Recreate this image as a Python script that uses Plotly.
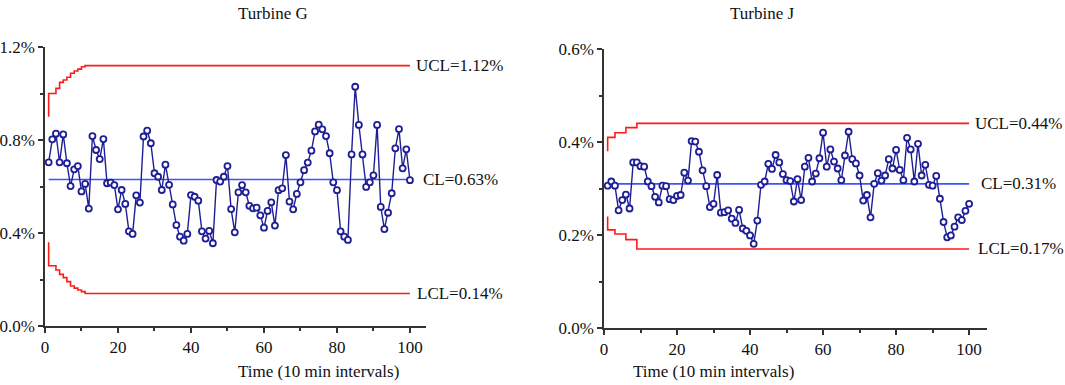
import plotly.graph_objects as go

# ---------------- data ----------------
time_idx = list(range(1, 101))

turbine_g = [0.704, 0.803, 0.827, 0.704, 0.824, 0.700, 0.602, 0.674, 0.688, 0.579,
             0.611, 0.505, 0.817, 0.757, 0.718, 0.804, 0.614, 0.617, 0.606, 0.502,
             0.585, 0.525, 0.407, 0.396, 0.562, 0.531, 0.815, 0.840, 0.786, 0.657,
             0.642, 0.585, 0.694, 0.607, 0.523, 0.434, 0.384, 0.367, 0.396, 0.563,
             0.556, 0.539, 0.407, 0.376, 0.409, 0.356, 0.628, 0.621, 0.642, 0.688,
             0.503, 0.403, 0.575, 0.606, 0.575, 0.517, 0.506, 0.509, 0.476, 0.423,
             0.495, 0.532, 0.432, 0.584, 0.592, 0.735, 0.535, 0.502, 0.568, 0.618,
             0.670, 0.703, 0.754, 0.837, 0.866, 0.846, 0.817, 0.743, 0.618, 0.584,
             0.407, 0.384, 0.370, 0.738, 1.029, 0.865, 0.738, 0.598, 0.618, 0.648,
             0.865, 0.512, 0.417, 0.487, 0.571, 0.764, 0.847, 0.678, 0.760, 0.627]

turbine_j = [0.306, 0.315, 0.306, 0.253, 0.275, 0.287, 0.257, 0.356, 0.356, 0.348,
             0.347, 0.315, 0.305, 0.282, 0.270, 0.306, 0.305, 0.277, 0.275, 0.284,
             0.286, 0.334, 0.317, 0.402, 0.401, 0.379, 0.339, 0.305, 0.260, 0.267,
             0.329, 0.248, 0.249, 0.253, 0.235, 0.226, 0.254, 0.214, 0.209, 0.199,
             0.181, 0.231, 0.308, 0.315, 0.353, 0.342, 0.372, 0.356, 0.331, 0.318,
             0.316, 0.272, 0.320, 0.275, 0.347, 0.366, 0.315, 0.332, 0.365, 0.420,
             0.347, 0.384, 0.358, 0.343, 0.318, 0.371, 0.422, 0.363, 0.354, 0.328,
             0.274, 0.286, 0.238, 0.310, 0.333, 0.317, 0.328, 0.363, 0.343, 0.383,
             0.340, 0.318, 0.409, 0.384, 0.315, 0.396, 0.328, 0.351, 0.308, 0.306,
             0.327, 0.278, 0.228, 0.195, 0.199, 0.218, 0.238, 0.232, 0.252, 0.267]

# control limits (step points)
g_limit_x = [1, 2, 3, 4, 5, 6, 7, 8, 9, 10, 11, 100]
g_ucl = [0.90, 1.00, 1.00, 1.022, 1.048, 1.058, 1.07, 1.087, 1.097, 1.105, 1.115, 1.12]
g_lcl = [0.36, 0.259, 0.259, 0.241, 0.222, 0.208, 0.191, 0.172, 0.163, 0.155, 0.148, 0.14]
g_cl_x = [1, 100]
g_cl = [0.63, 0.63]

j_limit_x = [1, 2, 3, 4, 5, 6, 7, 8, 9, 100]
j_ucl = [0.38, 0.41, 0.41, 0.42, 0.42, 0.42, 0.431, 0.431, 0.431, 0.44]
j_lcl = [0.24, 0.211, 0.211, 0.202, 0.202, 0.202, 0.19, 0.19, 0.19, 0.17]
j_cl_x = [1, 100]
j_cl = [0.31, 0.31]

titles = ["Turbine G", "Turbine J"]
x_title = "Time (10 min intervals)"
g_labels = ["UCL=1.12%", "CL=0.63%", "LCL=0.14%"]
j_labels = ["UCL=0.44%", "CL=0.31%", "LCL=0.17%"]
x_ticks = [0, 20, 40, 60, 80, 100]
g_y_ticks = [0.0, 0.4, 0.8, 1.2]
j_y_ticks = [0.0, 0.2, 0.4, 0.6]

# ---------------- style ----------------
W, H = 1065, 385
FONT = "Liberation Serif, Times New Roman, serif"
NAVY = "#1e1e96"
RED = "#ff1a1a"
BLUE = "#3a55ff"
AXC = "#333333"
FS = 17

def px_x(p):
    return p / W

def px_y(p):
    return (H - p) / H

fig = go.Figure()

def add_panel(xa, ya, values, limx, ucl, lcl, clx, cl):
    fig.add_trace(go.Scatter(x=clx, y=cl, mode="lines", xaxis=xa, yaxis=ya,
                             line=dict(color=BLUE, width=1.6), hoverinfo="skip"))
    fig.add_trace(go.Scatter(x=limx, y=ucl, mode="lines", xaxis=xa, yaxis=ya,
                             line=dict(color=RED, width=1.6, shape="vh"), hoverinfo="skip"))
    fig.add_trace(go.Scatter(x=limx, y=lcl, mode="lines", xaxis=xa, yaxis=ya,
                             line=dict(color=RED, width=1.6, shape="vh"), hoverinfo="skip"))
    fig.add_trace(go.Scatter(x=time_idx, y=values, mode="lines+markers", xaxis=xa, yaxis=ya,
                             line=dict(color=NAVY, width=1.4),
                             marker=dict(symbol="circle", size=6, color="white",
                                         line=dict(color=NAVY, width=1.8))))

add_panel("x", "y", turbine_g, g_limit_x, g_ucl, g_lcl, g_cl_x, g_cl)
add_panel("x2", "y2", turbine_j, j_limit_x, j_ucl, j_lcl, j_cl_x, j_cl)

tickfont = dict(family=FONT, size=FS, color="#111111")

def xaxis_cfg(domain, anchor, rng):
    return dict(domain=domain, anchor=anchor, range=rng, showgrid=False, zeroline=False,
                automargin=False,
                showline=True, linecolor=AXC, linewidth=1.5,
                ticks="outside", ticklen=5, tickwidth=1.5, tickcolor=AXC,
                tickvals=x_ticks, ticktext=[str(v) for v in x_ticks], tickfont=tickfont,
                minor=dict(ticks="outside", ticklen=3, tickwidth=1.5, tickcolor=AXC,
                           dtick=10, tick0=0, showgrid=False))

def yaxis_cfg(domain, anchor, rng, vals, minor_dtick):
    return dict(domain=domain, anchor=anchor, range=rng, showgrid=False, zeroline=False,
                automargin=False,
                showline=True, linecolor=AXC, linewidth=1.5,
                ticks="outside", ticklen=5, tickwidth=1.5, tickcolor=AXC,
                tickvals=vals, ticktext=[f"{v:.1f}%" for v in vals], tickfont=tickfont,
                minor=dict(ticks="outside", ticklen=3, tickwidth=1.5, tickcolor=AXC,
                           dtick=minor_dtick, tick0=0, showgrid=False))

# panel geometry (pixels)
gL, gR, gT, gB = 45, 426, 47, 326
jL, jR, jT, jB = 604, 987, 49, 328

fig.update_layout(
    width=W, height=H,
    margin=dict(l=0, r=0, t=0, b=0, autoexpand=False),
    paper_bgcolor="white", plot_bgcolor="white",
    showlegend=False,
    xaxis=xaxis_cfg([px_x(gL), px_x(gR)], "y", [0, 104.4]),
    yaxis=yaxis_cfg([px_y(gB), px_y(gT)], "x", [0, 1.2], g_y_ticks, 0.2),
    xaxis2=xaxis_cfg([px_x(jL), px_x(jR)], "y2", [0, 104.9]),
    yaxis2=yaxis_cfg([px_y(jB), px_y(jT)], "x2", [0, 0.6], j_y_ticks, 0.1),
)

lab_font = dict(family=FONT, size=FS, color="#111111")
annotations = []
# titles
annotations.append(dict(text=titles[0], x=px_x((gL + gR) / 2), y=px_y(13), xref="paper", yref="paper",
                        yanchor="middle", showarrow=False, font=lab_font))
annotations.append(dict(text=titles[1], x=px_x((jL + jR) / 2), y=px_y(13), xref="paper", yref="paper",
                        yanchor="middle", showarrow=False, font=lab_font))
# x axis titles
annotations.append(dict(text=x_title, x=px_x((gL + gR) / 2), y=px_y(371), xref="paper", yref="paper",
                        yanchor="middle", showarrow=False, font=lab_font))
annotations.append(dict(text=x_title, x=px_x((jL + jR) / 2), y=px_y(371), xref="paper", yref="paper",
                        yanchor="middle", showarrow=False, font=lab_font))
# limit labels
for (txt, xv, yv) in zip(g_labels, [101.2, 103.0, 101.5], [g_ucl[-1], g_cl[-1], g_lcl[-1]]):
    annotations.append(dict(text=txt, x=xv, y=yv, xref="x", yref="y", xanchor="left",
                            yanchor="middle", showarrow=False, font=lab_font))
for (txt, xv, yv) in zip(j_labels, [101.0, 102.8, 101.9], [j_ucl[-1], j_cl[-1], j_lcl[-1]]):
    annotations.append(dict(text=txt, x=xv, y=yv, xref="x2", yref="y2", xanchor="left",
                            yanchor="middle", showarrow=False, font=lab_font))
fig.update_layout(annotations=annotations)

fig.write_html("out.html", config={"displayModeBar": False},
               post_script="document.body.style.margin='0px';document.body.style.padding='0px';")
